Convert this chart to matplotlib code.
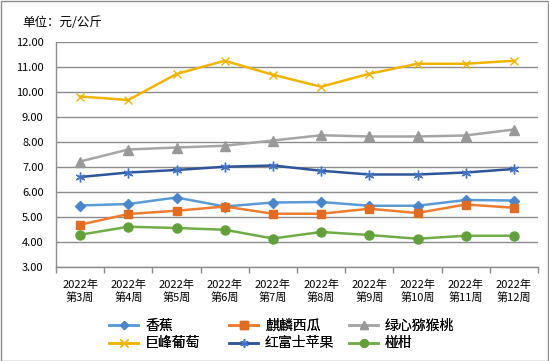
import matplotlib
matplotlib.use('Agg')
import matplotlib.pyplot as plt
from matplotlib.patches import Rectangle

plt.rcParams['font.family'] = ['Noto Sans CJK SC', 'DejaVu Sans']

# 週次
weeks = ['2022年\n第%d周' % w for w in range(3, 13)]

# 各品種價格 (元/公斤)
banana = [5.46, 5.52, 5.78, 5.42, 5.58, 5.60, 5.45, 5.45, 5.68, 5.66]
watermelon = [4.69, 5.12, 5.25, 5.42, 5.13, 5.13, 5.33, 5.16, 5.50, 5.37]
kiwi = [7.22, 7.70, 7.78, 7.85, 8.06, 8.27, 8.22, 8.22, 8.26, 8.50]
grape = [9.82, 9.68, 10.72, 11.25, 10.69, 10.21, 10.73, 11.13, 11.13, 11.25]
apple = [6.60, 6.78, 6.88, 7.01, 7.06, 6.85, 6.70, 6.70, 6.78, 6.92]
orange = [4.29, 4.61, 4.56, 4.49, 4.14, 4.40, 4.28, 4.13, 4.25, 4.25]

W, H = 549, 361
fig = plt.figure(figsize=(W / 100, H / 100), dpi=100)
fig.patches.append(Rectangle((0.5 / W, 0.5 / H), 1 - 1.5 / W, 1 - 1.5 / H,
                             transform=fig.transFigure, fill=False,
                             edgecolor='#8c8c8c', lw=1))

ax = fig.add_axes([56 / W, (H - 267) / H, 482 / W, 225 / H])
x = list(range(len(weeks)))

series = [
    ('香蕉', banana, '#5b9bd5', '#4a86c8', 'D', 5),
    ('麒麟西瓜', watermelon, '#ed7d31', '#e06c22', 's', 6),
    ('绿心猕猴桃', kiwi, '#a5a5a5', '#999999', '^', 6.5),
    ('巨峰葡萄', grape, '#f0b400', '#f0b400', 'x', 6),
    ('红富士苹果', apple, '#2e5597', '#4472c4', (6, 2, 0), 7),
    ('椪柑', orange, '#70ad47', '#63a03c', 'o', 6.5),
]
lines = {}
for name, vals, c, mc, m, ms in series:
    ln, = ax.plot(x, vals, color=c, lw=1.8, marker=m, markersize=ms,
                  markerfacecolor=mc, markeredgecolor=mc, markeredgewidth=1.0,
                  label=name, zorder=3)
    lines[name] = ln

ax.set_xlim(-0.5, len(weeks) - 0.5)
ax.set_ylim(3, 12)
ax.set_yticks([3 + i for i in range(10)])
ax.set_yticklabels(['%.2f' % (3 + i) for i in range(10)])
ax.yaxis.grid(True, color='#8c8c8c', lw=1)
ax.set_axisbelow(True)

ax.set_xticks(x)
ax.set_xticklabels(weeks, linespacing=1.25)
ax.set_xticks([i - 0.5 for i in range(len(weeks) + 1)], minor=True)
ax.tick_params(axis='x', which='major', length=0, pad=9, labelsize=8)
ax.tick_params(axis='x', which='minor', length=4, color='#8c8c8c', width=1)
ax.tick_params(axis='y', length=0, pad=9, labelsize=8)

for s in ['top', 'right']:
    ax.spines[s].set_visible(False)
for s in ['left', 'bottom']:
    ax.spines[s].set_color('#8c8c8c')
    ax.spines[s].set_linewidth(1)

fig.text(22 / W, 1 - 22 / H, '单位：元/公斤', fontsize=9, va='center', ha='left')

# 圖例：三欄等寬
columns = [['香蕉', '巨峰葡萄'], ['麒麟西瓜', '红富士苹果'], ['绿心猕猴桃', '椪柑']]
for i, names in enumerate(columns):
    leg = fig.legend([lines[n] for n in names], names, loc='upper left',
                     bbox_to_anchor=((102 + 120 * i) / W, 1 - 312 / H),
                     frameon=False, fontsize=10, handlelength=2.1,
                     handletextpad=0.5, labelspacing=0.25, borderpad=0,
                     markerscale=0.85)
    fig.add_artist(leg)

fig.savefig('out.png', dpi=100)
